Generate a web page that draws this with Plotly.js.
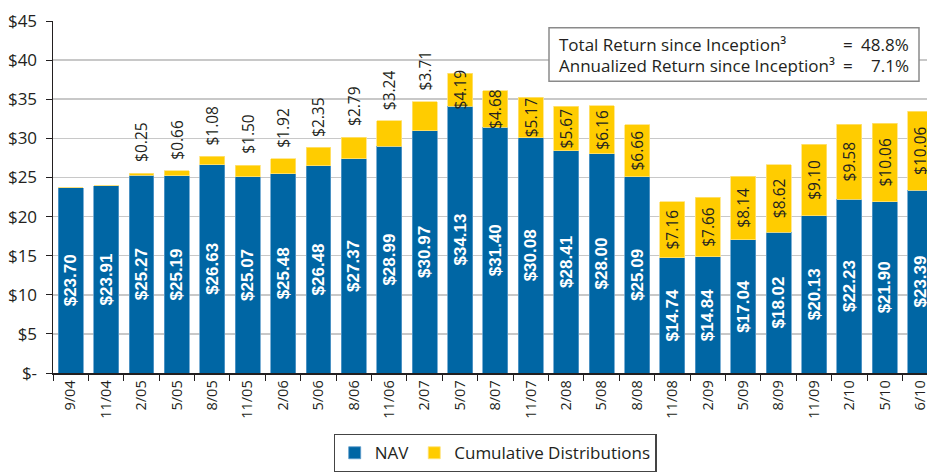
<!DOCTYPE html>
<html>
<head>
<meta charset="utf-8">
<script src="https://cdn.plot.ly/plotly-3.0.1.min.js"></script>
<style>
html,body{margin:0;padding:0;background:#fff;overflow:hidden;}
#chart{width:927px;height:472px;}
</style>
</head>
<body>
<div id="chart"></div>
<script>
var categories = ['9/04','11/04','2/05','5/05','8/05','11/05','2/06','5/06','8/06','11/06','2/07','5/07','8/07','11/07','2/08','5/08','8/08','11/08','2/09','5/09','8/09','11/09','2/10','5/10','6/10'];
var navValues = [23.70,23.91,25.27,25.19,26.63,25.07,25.48,26.48,27.37,28.99,30.97,34.13,31.40,30.08,28.41,28.00,25.09,14.74,14.84,17.04,18.02,20.13,22.23,21.90,23.39];
var distValues = [0,0,0.25,0.66,1.08,1.50,1.92,2.35,2.79,3.24,3.71,4.19,4.68,5.17,5.67,6.16,6.66,7.16,7.66,8.14,8.62,9.10,9.58,10.06,10.06];
var distLabelInside = [false,false,false,false,false,false,false,false,false,false,false,true,true,true,true,true,true,true,true,true,true,true,true,true,true];
var yTickVals = [0,5,10,15,20,25,30,35,40,45];
var yTickText = ['$-','$5','$10','$15','$20','$25','$30','$35','$40','$45'];
var statLabels = ['Total Return since Inception\u00b3','Annualized Return since Inception\u00b3'];
var statValues = ['48.8%','7.1%'];

var FONT = 'Open Sans, Noto Sans, sans-serif';
var TXT = '#231f20';

var navText = navValues.map(function(v){ return '$' + v.toFixed(2); });
var distText = distValues.map(function(v, i){
  return (v !== 0 && distLabelInside[i]) ? '$' + v.toFixed(2) : '';
});

var traces = [
  {
    type: 'bar', name: 'NAV', x: categories, y: navValues,
    marker: {color: '#0066a4', line: {color: '#5d9ccb', width: 0.8}},
    text: navText, textposition: 'inside', insidetextanchor: 'middle',
    textangle: -90, constraintext: 'none',
    insidetextfont: {family: 'Liberation Sans, Arial, sans-serif', size: 17, color: '#ffffff', weight: 'bold'},
    hoverinfo: 'skip'
  },
  {
    type: 'bar', name: 'Cumulative Distributions', x: categories, y: distValues,
    marker: {color: '#ffcc00', line: {color: '#ffe27a', width: 0.8}},
    text: distText, textposition: 'inside', insidetextanchor: 'middle',
    textangle: -90, constraintext: 'none',
    insidetextfont: {family: FONT, size: 15.5, color: TXT},
    hoverinfo: 'skip'
  }
];

var plotLeft = 53, plotRight = 927, plotTop = 21, plotBottom = 383;
var pw = plotRight - plotLeft, ph = plotBottom - plotTop;
function px(x){ return (x - plotLeft) / pw; }
function py(y){ return (plotBottom - y) / ph; }

var annotations = [];
// distribution labels above the bars (before 5/07)
for (var k = 0; k < categories.length; k++) {
  if (distValues[k] !== 0 && !distLabelInside[k]) {
    annotations.push({xref:'x', yref:'y', x: categories[k], y: navValues[k] + distValues[k],
      xanchor:'center', yanchor:'bottom', yshift: 9, textangle: -90, showarrow:false,
      text: '$' + distValues[k].toFixed(2), font:{family: FONT, size: 15.5, color: TXT}});
  }
}
for (var i = 0; i < statLabels.length; i++) {
  var yy = i === 0 ? 45 : 67;
  annotations.push({xref:'paper', yref:'paper', x: px(557), y: py(yy), xanchor:'left', yanchor:'middle',
    text: statLabels[i], showarrow:false, font:{family: FONT, size: 17, color: TXT}});
  annotations.push({xref:'paper', yref:'paper', x: px(841), y: py(yy), xanchor:'left', yanchor:'middle',
    text: '=', showarrow:false, font:{family: FONT, size: 17, color: TXT}});
  annotations.push({xref:'paper', yref:'paper', x: px(911), y: py(yy), xanchor:'right', yanchor:'middle',
    text: statValues[i], showarrow:false, font:{family: FONT, size: 17, color: TXT}});
}

var layout = {
  width: 927, height: 472,
  margin: {l: 53, r: 0, t: 21, b: 89, pad: 0},
  paper_bgcolor: '#ffffff', plot_bgcolor: '#ffffff',
  barmode: 'stack', bargap: 0.294,
  font: {family: FONT, color: TXT},
  showlegend: true,
  legend: {
    orientation: 'h', x: px(495), xanchor: 'center', y: -(446 - plotBottom) / ph, yanchor: 'top',
    bordercolor: '#444', borderwidth: 1.2, bgcolor: '#ffffff',
    font: {family: FONT, size: 17, color: TXT}, traceorder: 'normal'
  },
  xaxis: {
    type: 'category', range: [-0.5, 24.19], fixedrange: true,
    showline: true, linecolor: TXT, linewidth: 1.5,
    ticks: 'outside', tickson: 'boundaries', ticklen: 6, tickcolor: TXT, tickwidth: 1,
    tickangle: -90, tickfont: {family: FONT, size: 14.5, color: TXT},
    showgrid: false, zeroline: false
  },
  yaxis: {
    range: [0, 45], fixedrange: true,
    tickvals: yTickVals, ticktext: yTickText,
    showline: true, linecolor: TXT, linewidth: 1.5,
    ticks: 'outside', ticklen: 6, tickcolor: TXT, tickwidth: 1, ticklabelstandoff: 5,
    tickfont: {family: FONT, size: 17, color: TXT},
    showgrid: true, gridcolor: '#c8c8c8', gridwidth: 1.5, zeroline: false
  },
  shapes: [{
    type: 'rect', xref: 'paper', yref: 'paper', layer: 'above',
    x0: px(549), x1: px(919), y0: py(83), y1: py(28),
    line: {color: '#8a8a8a', width: 1.5}, fillcolor: '#ffffff'
  }],
  annotations: annotations
};

Plotly.newPlot('chart', traces, layout, {displayModeBar: false, staticPlot: true});
</script>
</body>
</html>
